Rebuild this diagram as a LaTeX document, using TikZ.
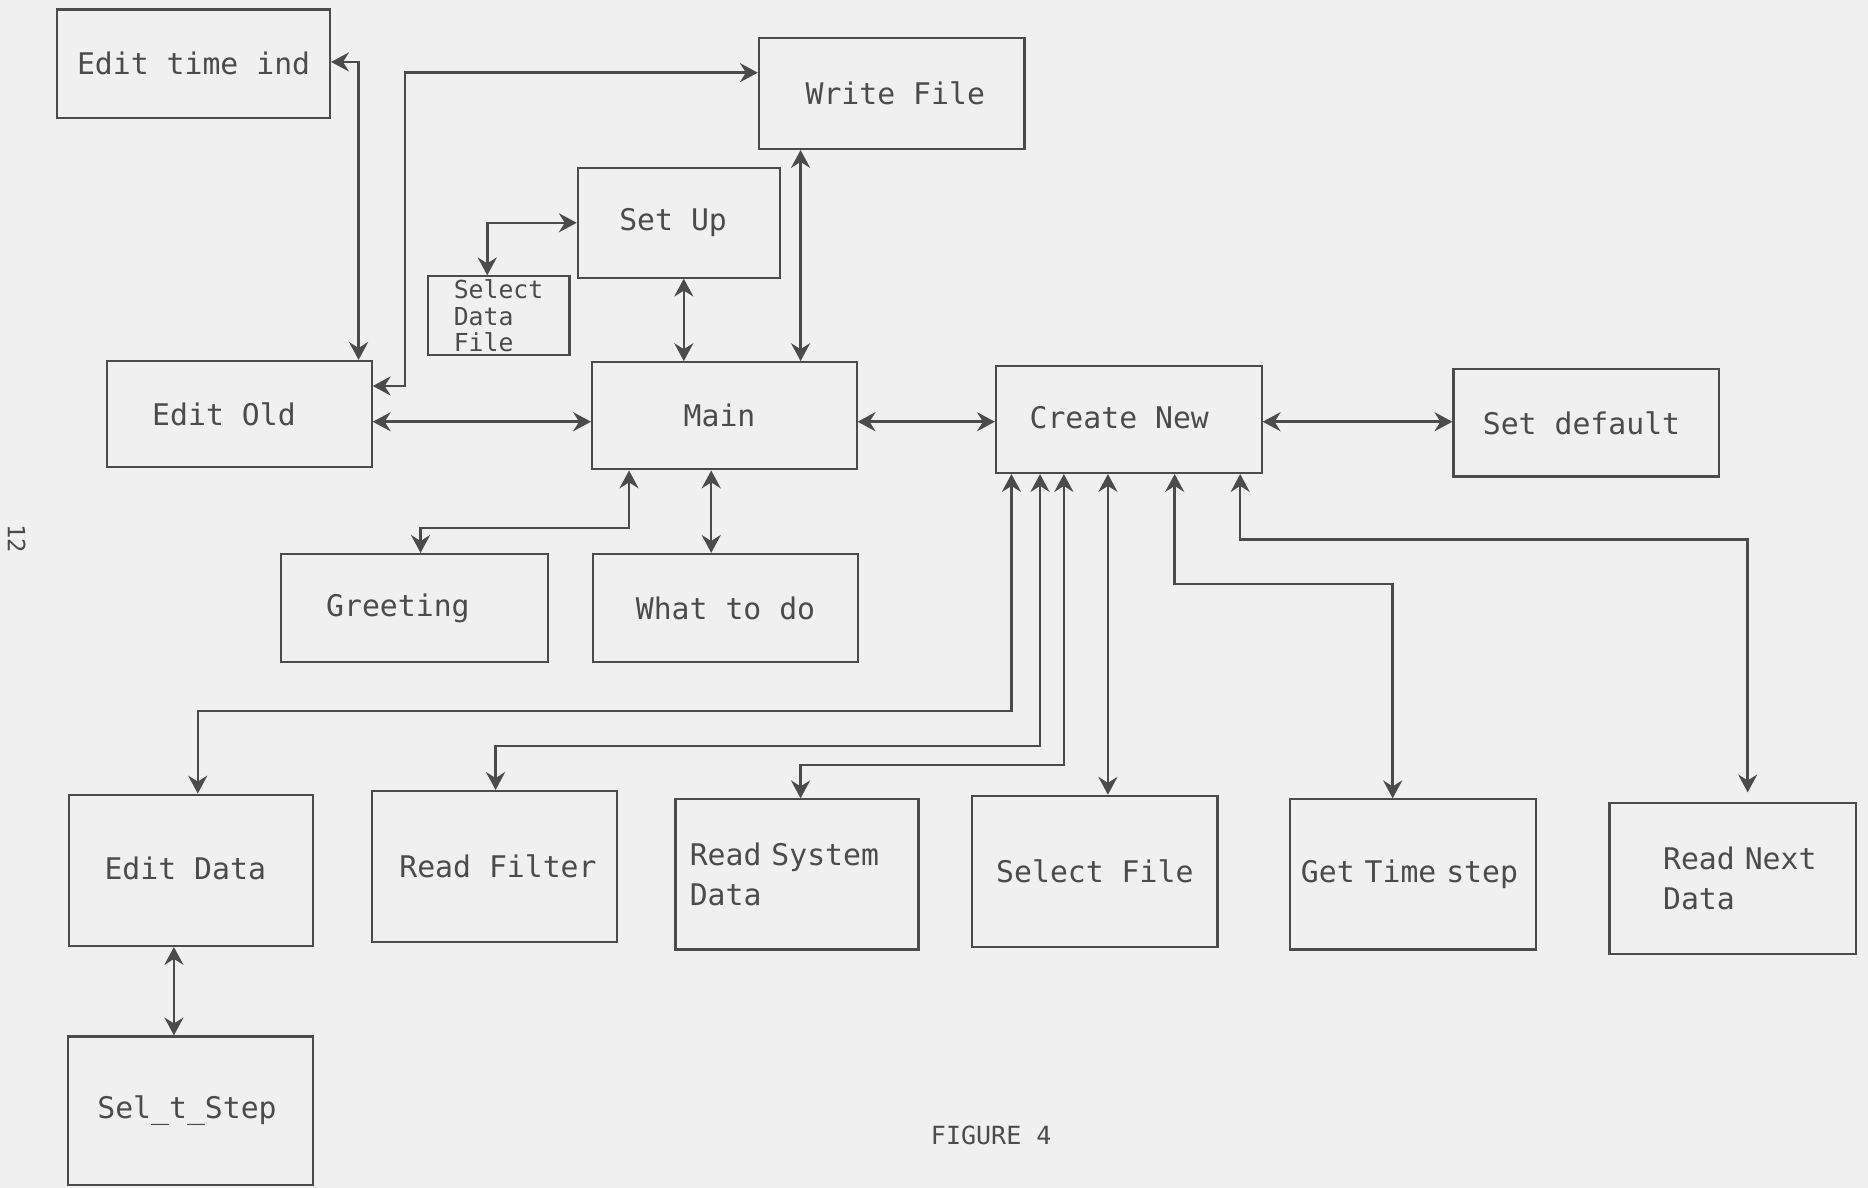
\documentclass[tikz,border=0pt]{standalone}
\usepackage{fontspec}
\setmonofont{DejaVu Sans Mono}
\usetikzlibrary{arrows.meta,calc}
\definecolor{ink}{RGB}{75,75,75}
\definecolor{paper}{RGB}{240,240,240}
\tikzset{
  myar/.tip={Stealth[length=7.5pt,width=8pt,inset=2.5pt]},
  box/.style={draw=ink, line width=0.9pt, inner sep=0pt, text=ink,
    font=\ttfamily\fontsize{12.5}{17}\selectfont},
  sz/.style 2 args={minimum width=#1*0.5pt, minimum height=#2*0.5pt},
  link/.style={draw=ink, line width=1.05pt, myar-myar},
  plain/.style={text=ink, inner sep=0pt}
}
\begin{document}
\begin{tikzpicture}[x=0.5pt,y=-0.5pt]
\fill[paper] (0,0) rectangle (1568,997);
\useasboundingbox (0,0) rectangle (1568,997);

% boxes
\node[box,sz={229}{91}] (eti) at (162.5,53.5) {Edit time ind};
\node[box,sz={223}{93}] (wf) at (748.5,78.5) {\hspace*{3pt}Write File};
\node[box,sz={170}{92}] (su) at (570,187) {\hspace*{-5pt}\raisebox{-2pt}{Set Up}};
\node[box,sz={119}{66},align=left,font=\ttfamily\fontsize{10.4}{11}\selectfont] (sdf) at (418.5,265) {Select\\Data\\File};
\node[box,sz={222}{89}] (eo) at (201,347.5) {\hspace*{-13pt}Edit Old};
\node[box,sz={222}{90}] (main) at (608,349) {\hspace*{-4pt}Main};
\node[box,sz={223}{90}] (cn) at (947.5,352) {\hspace*{-8pt}\raisebox{1.5pt}{Create New}};
\node[box,sz={223}{90}] (sd) at (1331.5,355) {\hspace*{-4pt}\raisebox{-1.5pt}{Set default}};
\node[box,sz={224}{91}] (gr) at (348,510.5) {\hspace*{-14pt}Greeting};
\node[box,sz={222}{91}] (wtd) at (609,510.5) {What to do};
\node[box,sz={205}{127}] (ed) at (160.5,730.5) {\hspace*{-5pt}\raisebox{2pt}{Edit Data}};
\node[box,sz={206}{127}] (rf) at (415,727.5) {\hspace*{3pt}Read Filter};
\node[box,sz={204}{126},align=left,text width=90pt] (rsd) at (669,734) {Read System\\Data};
\node[box,sz={206}{127}] (sf) at (919,731.5) {Select File};
\node[box,sz={206}{126},align=left,text width=94pt] (gts) at (1186,734) {\mbox{Get Time step}};
\node[box,sz={207}{127},align=left,text width=58.5pt] (rnd) at (1454.5,737.5) {\mbox{Read Next}\\Data};
\node[box,sz={206}{125}] (sts) at (160,932.5) {\hspace*{-3pt}\raisebox{-1.5pt}{Sel\_t\_Step}};

\node[plain,font=\ttfamily\fontsize{10.5}{12}\selectfont] (fig) at (832,953) {FIGURE 4};
\node[plain,rotate=-90,font=\ttfamily\fontsize{10}{12}\selectfont] (pg) at (14,452) {12};

% connectors
\coordinate (a1) at (301,52);
\draw[link] (eti.east |- a1) -- (a1) -- (eo.north -| a1);
\coordinate (b1) at (340,324); \coordinate (b2) at (340,61);
\draw[link] (eo.east |- b1) -- (b1) -- (b2) -- (wf.west |- b2);
\coordinate (c1) at (400,354);
\draw[link] (eo.east |- c1) -- (main.west |- c1);
\coordinate (d1) at (409,187);
\draw[link] (su.west |- d1) -- (d1) -- (sdf.north -| d1);
\coordinate (e1) at (574,0);
\draw[link] (su.south -| e1) -- (main.north -| e1);
\coordinate (f1) at (672,0);
\draw[link] (main.north -| f1) -- (wf.south -| f1);
\coordinate (g1) at (0,354);
\draw[link] (main.east |- g1) -- (cn.west |- g1);
\draw[link] (cn.east |- g1) -- (sd.west |- g1);
\coordinate (h1) at (528,443); \coordinate (h2) at (353,443);
\draw[link] (main.south -| h1) -- (h1) -- (h2) -- (gr.north -| h2);
\coordinate (i1) at (597,0);
\draw[link] (main.south -| i1) -- (wtd.north -| i1);

\coordinate (j1) at (849,597); \coordinate (j2) at (166,597);
\draw[link] (cn.south -| j1) -- (j1) -- (j2) -- (ed.north -| j2);
\coordinate (k1) at (873,626); \coordinate (k2) at (416,626);
\draw[link] (cn.south -| k1) -- (k1) -- (k2) -- (rf.north -| k2);
\coordinate (l1) at (893,642); \coordinate (l2) at (672,642);
\draw[link] (cn.south -| l1) -- (l1) -- (l2) -- (rsd.north -| l2);
\coordinate (m1) at (930,0);
\draw[link] (cn.south -| m1) -- (sf.north -| m1);
\coordinate (n1) at (986,490); \coordinate (n2) at (1169,490);
\draw[link] (cn.south -| n1) -- (n1) -- (n2) -- (gts.north -| n2);
\coordinate (o1) at (1041,453); \coordinate (o2) at (1467,453);
\draw[link,shorten >=4pt] (cn.south -| o1) -- (o1) -- (o2) -- (rnd.north -| o2);
\coordinate (p1) at (146,0);
\draw[link] (ed.south -| p1) -- (sts.north -| p1);
\end{tikzpicture}
\end{document}
